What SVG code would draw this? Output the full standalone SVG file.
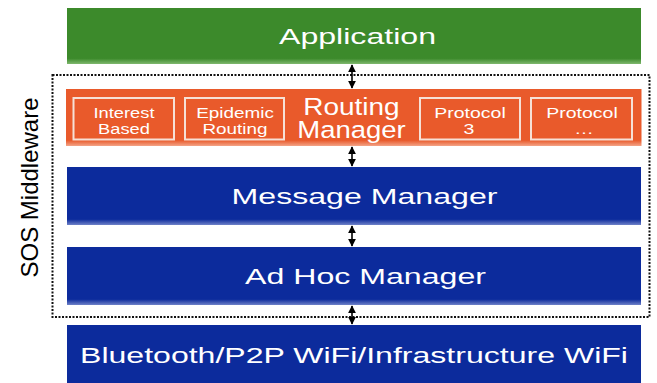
<svg xmlns="http://www.w3.org/2000/svg" width="657" height="383" viewBox="0 0 657 383">
<defs>
<style>
.t{font-family:"Liberation Sans",Arial,sans-serif;fill:#ffffff;text-anchor:middle}
.big{font-size:22px}
.rm{font-size:23.5px}
.small{font-size:15px}
.sub{fill:none;stroke:#f6e0d6;stroke-width:2}
.conn{stroke:#000;stroke-width:1.6;fill:none}
</style>
<linearGradient id="gg" x1="0" y1="0" x2="0" y2="1">
<stop offset="0" stop-color="#3c8a2b"/><stop offset="0.9" stop-color="#3c8a2b"/><stop offset="1" stop-color="#7fb86e"/>
</linearGradient>
<linearGradient id="og" x1="0" y1="0" x2="0" y2="1">
<stop offset="0" stop-color="#e95a2b"/><stop offset="0.9" stop-color="#e95a2b"/><stop offset="1" stop-color="#f3a488"/>
</linearGradient>
<linearGradient id="bg" x1="0" y1="0" x2="0" y2="1">
<stop offset="0" stop-color="#0c2b9c"/><stop offset="0.9" stop-color="#0c2b9c"/><stop offset="1" stop-color="#6f82c8"/>
</linearGradient>
<marker id="ah" viewBox="0 0 10 10" refX="9" refY="5" markerWidth="5" markerHeight="5" orient="auto-start-reverse"><path d="M0,0 L10,5 L0,10 z" fill="#000"/></marker>
</defs>
<rect x="0" y="0" width="657" height="383" fill="#fff"/>
<g id="middleware">
<rect x="52.5" y="75" width="597" height="242" fill="none" stroke="#111" stroke-width="2" stroke-dasharray="2,1.5"/>
<text transform="translate(38,187.5) rotate(-90)" font-family="'Liberation Sans',Arial,sans-serif" font-size="24" text-anchor="middle" fill="#000">SOS Middleware</text>
</g>
<g id="application">
<rect fill="url(#gg)" x="67" y="8" width="574" height="56"/>
<text class="t big" transform="matrix(1.46,0,0,1,357.5,43.5)">Application</text>
</g>
<g id="routing-manager">
<rect fill="url(#og)" x="66" y="89" width="575.5" height="57"/>
<text class="t rm" transform="matrix(1.19,0,0,1,351.5,114.5)">Routing</text>
<text class="t rm" transform="matrix(1.17,0,0,1,351.5,138)">Manager</text>
</g>
<g id="interest-based">
<rect class="sub" x="73.5" y="98" width="100.5" height="41.5"/>
<text class="t small" transform="matrix(1.22,0,0,1,124,117.5)">Interest</text>
<text class="t small" transform="matrix(1.22,0,0,1,124,133.5)">Based</text>
</g>
<g id="epidemic-routing">
<rect class="sub" x="185" y="98" width="99" height="41.5"/>
<text class="t small" transform="matrix(1.26,0,0,1,235,117.5)">Epidemic</text>
<text class="t small" transform="matrix(1.26,0,0,1,235,133.5)">Routing</text>
</g>
<g id="protocol-3">
<rect class="sub" x="420" y="98" width="100" height="41.5"/>
<text class="t small" transform="matrix(1.3,0,0,1,470,117.5)">Protocol</text>
<text class="t small" transform="matrix(1.3,0,0,1,469,133.5)">3</text>
</g>
<g id="protocol-n">
<rect class="sub" x="531" y="98" width="101" height="41.5"/>
<text class="t small" transform="matrix(1.3,0,0,1,582,117.5)">Protocol</text>
<text class="t small" transform="matrix(1.3,0,0,1,584,133.5)">…</text>
</g>
<g id="message-manager">
<rect fill="url(#bg)" x="67" y="167" width="574" height="58"/>
<text class="t big" transform="matrix(1.46,0,0,1,364.5,204)">Message Manager</text>
</g>
<g id="adhoc-manager">
<rect fill="url(#bg)" x="67" y="247" width="574" height="58"/>
<text class="t big" transform="matrix(1.46,0,0,1,365.5,284)">Ad Hoc Manager</text>
</g>
<g id="bluetooth">
<rect fill="#0c2b9c" x="67" y="325" width="574" height="58"/>
<text class="t big" transform="matrix(1.457,0,0,1,354,363.3)">Bluetooth/P2P WiFi/Infrastructure WiFi</text>
</g>
<g id="connectors">
<line class="conn" x1="352" y1="65" x2="352" y2="88" marker-start="url(#ah)" marker-end="url(#ah)"/>
<line class="conn" x1="352" y1="147" x2="352" y2="166" marker-start="url(#ah)" marker-end="url(#ah)"/>
<line class="conn" x1="352" y1="226" x2="352" y2="246" marker-start="url(#ah)" marker-end="url(#ah)"/>
<line class="conn" x1="352" y1="306" x2="352" y2="324" marker-start="url(#ah)" marker-end="url(#ah)"/>
</g>
</svg>
